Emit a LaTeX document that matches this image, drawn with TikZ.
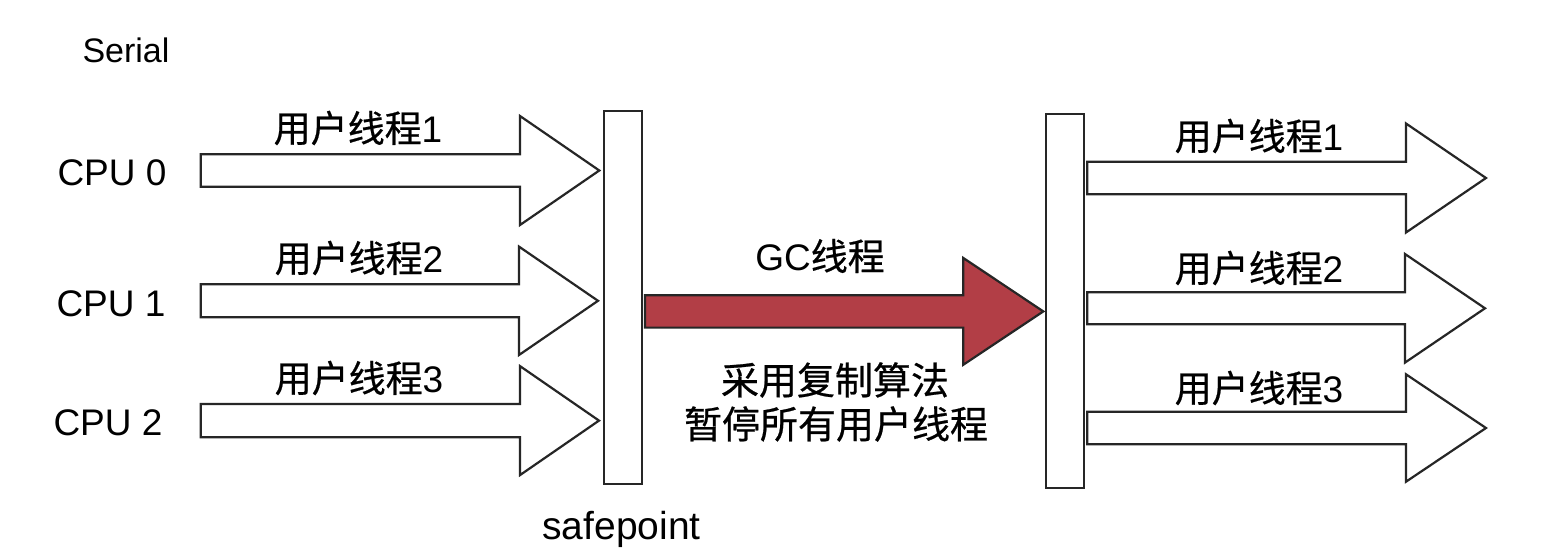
\documentclass[tikz,border=0pt]{standalone}
\usepackage{fontspec}
\setmainfont{Liberation Sans}
\newfontfamily\cjk[AutoFakeBold=0.6]{Noto Sans CJK SC}
\definecolor{gcred}{RGB}{178,62,70}
\newcommand{\fatarrow}[7]{%
  % #1 style, #2 x0, #3 xhead, #4 xtip, #5 yc, #6 shaft half, #7 head half
  \draw[#1] (#2,#5-#6) -- (#3,#5-#6) -- (#3,#5-#7) -- (#4,#5) -- (#3,#5+#7) -- (#3,#5+#6) -- (#2,#5+#6) -- cycle;}
\newcommand{\zhtxt}[1]{{\cjk\bfseries #1}}
\begin{document}
\begin{tikzpicture}[x=0.5pt,y=-0.5pt,
  outl/.style={draw=black!85,line width=1.1pt,line join=miter,fill=white},
  redarr/.style={draw=black!85,line width=1.1pt,line join=miter,fill=gcred},
  bar/.style={draw=black!85,line width=1.1pt,fill=white,inner sep=0pt},
  lat/.style={inner sep=0pt,font=\fontsize{18.5pt}{22pt}\selectfont},
  zh/.style={inner sep=0pt,font=\fontsize{18.5pt}{22pt}\selectfont}]
\useasboundingbox[fill=white] (0,0) rectangle (1560,556);
% text labels
\node[lat,font=\fontsize{17pt}{20pt}\selectfont] (serial) at (126,50) {Serial};
\node[lat] (cpu0) at (112,173) {CPU 0};
\node[lat] (cpu1) at (111,304) {CPU 1};
\node[lat] (cpu2) at (108,423) {CPU 2};
% left arrows
\fatarrow{outl}{200.7}{520}{599.3}{170.5}{16.3}{54.5}
\fatarrow{outl}{200.7}{519}{598}{300.8}{16.5}{54.2}
\fatarrow{outl}{200.7}{520}{599}{420.6}{16.6}{54.5}
\node[zh] (l1) at (358,128) {\zhtxt{用户线程}1};
\node[zh] (l2) at (359,258) {\zhtxt{用户线程}2};
\node[zh] (l3) at (359,378) {\zhtxt{用户线程}3};
% safepoint bars
\node[bar,minimum width=19.15pt,minimum height=186.5pt] (sp1) at (623.15,297.5) {};
\node[bar,minimum width=19.15pt,minimum height=186.85pt] (sp2) at (1064.85,300.85) {};
\node[lat,anchor=base,font=\fontsize{19.5pt}{22pt}\selectfont] (safe) at (621.5,539) {safepoint};
% GC arrow
\fatarrow{redarr}{645}{963.3}{1043.3}{311.4}{16.2}{53.4}
\node[zh] (gc) at (820,256) {GC\zhtxt{线程}};
\node[zh,font=\fontsize{19pt}{22pt}\selectfont] (algo1) at (835,380) {\zhtxt{采用复制算法}};
\node[zh,font=\fontsize{19pt}{22pt}\selectfont] (algo2) at (836,424) {\zhtxt{暂停所有用户线程}};
% right arrows
\fatarrow{outl}{1087.3}{1406}{1486}{178}{16.3}{54.5}
\fatarrow{outl}{1087.3}{1405}{1485}{308.3}{16}{54.3}
\fatarrow{outl}{1087.3}{1406}{1486}{428}{16.2}{53.7}
\node[zh] (r1) at (1259,136) {\zhtxt{用户线程}1};
\node[zh] (r2) at (1259,268) {\zhtxt{用户线程}2};
\node[zh] (r3) at (1259,388) {\zhtxt{用户线程}3};
\end{tikzpicture}
\end{document}
